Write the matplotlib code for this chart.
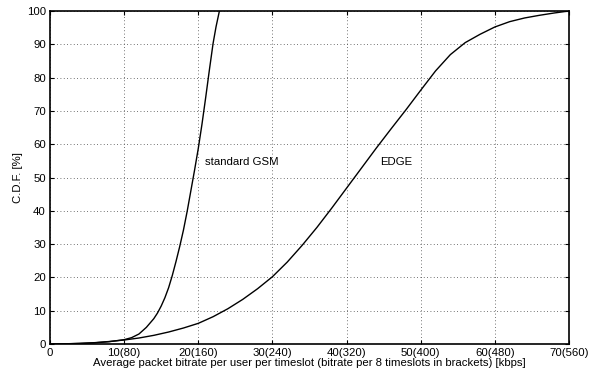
import matplotlib
matplotlib.use("Agg")
import matplotlib.pyplot as plt
import numpy as np

plt.rcParams['font.family'] = ['Liberation Sans', 'DejaVu Sans']

# standard GSM CDF
gsm_x = [0, 2, 4, 6, 8, 9, 10, 11, 12, 13, 14, 14.5, 15, 15.5, 16, 16.5, 17, 17.5, 18, 18.5, 19, 19.5, 20, 20.5, 21, 21.5, 22, 22.4, 22.85]
gsm_y = [0, 0.05, 0.15, 0.35, 0.7, 1.0, 1.3, 1.9, 3.0, 5.0, 7.6, 9.3, 11.4, 13.9, 16.9, 20.6, 24.8, 29.3, 34.2, 39.8, 46.0, 52.2, 58.7, 66.0, 74.0, 82.3, 90.3, 95.3, 100]

# EDGE CDF
edge_x = [0, 2, 4, 6, 8, 10, 12, 14, 16, 18, 20, 22, 24, 26, 28, 30, 32, 34, 36, 38, 40, 42, 44, 46, 48, 50, 52, 54, 56, 58, 60, 62, 64, 66, 68, 70]
edge_y = [0, 0.05, 0.2, 0.4, 0.75, 1.2, 1.8, 2.6, 3.6, 4.8, 6.2, 8.2, 10.6, 13.4, 16.6, 20.2, 24.6, 29.6, 35.0, 40.8, 46.8, 52.8, 58.8, 64.6, 70.3, 76.2, 82.0, 86.9, 90.5, 93.0, 95.2, 96.8, 97.9, 98.7, 99.4, 100]

xticks = [0, 10, 20, 30, 40, 50, 60, 70]
xtick_labels = ['0', '10(80)', '20(160)', '30(240)', '40(320)', '50(400)', '60(480)', '70(560)']
yticks = [0, 10, 20, 30, 40, 50, 60, 70, 80, 90, 100]

fig = plt.figure(figsize=(5.9, 3.74), dpi=100)
ax = fig.add_axes([0.0847, 0.0802, 0.8797, 0.8904])

ax.plot(gsm_x, gsm_y, color='black', lw=1.0)
ax.plot(edge_x, edge_y, color='black', lw=1.0)

ax.set_xlim(0, 70)
ax.set_ylim(0, 100)
ax.set_xticks(xticks)
ax.set_xticklabels(xtick_labels)
ax.set_yticks(yticks)
ax.tick_params(direction='in', top=True, right=True, labelsize=8.2, length=3, pad=3, width=0.8)
ax.grid(True, linestyle=(0, (1, 3)), color='#444444', lw=0.6)
for s in ax.spines.values():
    s.set_linewidth(1.2)

ax.set_xlabel('Average packet bitrate per user per timeslot (bitrate per 8 timeslots in brackets) [kbps]', fontsize=8.2, labelpad=0)
ax.set_ylabel('C.D.F. [%]', fontsize=8.2, labelpad=3)

ax.text(20.9, 54.6, 'standard GSM', fontsize=8.2, va='center', ha='left')
ax.text(44.5, 54.6, 'EDGE', fontsize=8.2, va='center', ha='left')

fig.savefig('out.png', dpi=100)
